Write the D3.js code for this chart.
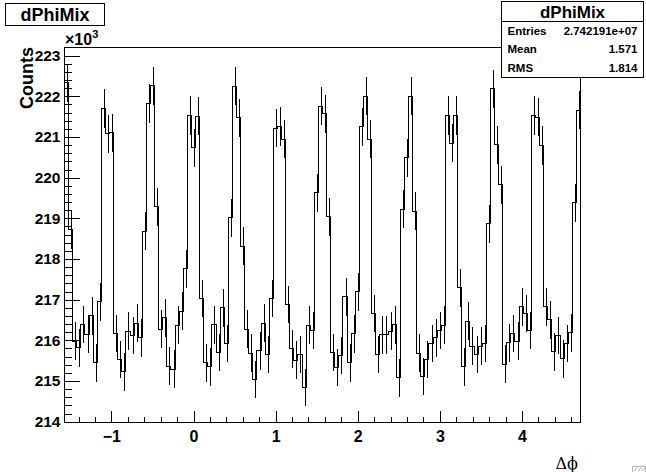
<!DOCTYPE html>
<html>
<head>
<meta charset="utf-8">
<script src="https://cdn.jsdelivr.net/npm/d3@7"></script>
<style>
body { margin: 0; background: #fff; }
svg { display: block; font-family: "Liberation Sans", Arial, Helvetica, sans-serif; font-weight: bold; }
</style>
</head>
<body>
<script>
var histTitle = "dPhiMix";
var xTitle = "\u0394\u03d5";
var yTitle = "Counts";
var xMin = -Math.PI / 2, xMax = 3 * Math.PI / 2;

// bin contents in units of 10^3 counts, 126 bins from -pi/2 to 3pi/2
var counts = [
    222.33, 218.72, 215.98, 215.82, 216.39, 216.15, 216.60, 215.45, 216.95, 221.70,
    221.08, 221.10, 216.17, 215.53, 215.23, 216.22, 216.12, 216.42, 216.06, 218.68,
    221.82, 222.26, 219.28, 216.27, 216.55, 215.36, 215.29, 216.37, 216.72, 217.76,
    221.53, 220.73, 221.51, 217.03, 215.45, 215.35, 216.38, 215.70, 216.80, 215.92,
    219.01, 222.25, 221.47, 218.31, 216.27, 215.68, 215.04, 215.74, 216.42, 215.65,
    217.03, 221.22, 221.26, 220.95, 216.88, 215.79, 215.51, 215.65, 214.84, 216.37,
    216.24, 219.63, 221.76, 221.57, 219.04, 215.70, 215.33, 215.63, 217.07, 215.45,
    216.16, 217.19, 221.25, 222.00, 220.95, 216.66, 215.65, 216.14, 216.14, 216.22,
    216.38, 215.08, 219.22, 220.49, 222.00, 219.17, 215.68, 215.11, 215.53, 215.92,
    216.06, 216.24, 216.37, 221.53, 220.85, 221.53, 217.29, 215.35, 216.47, 215.86,
    215.65, 215.86, 215.92, 218.87, 222.18, 220.81, 219.82, 215.41, 215.94, 216.17,
    215.98, 216.83, 216.66, 216.24, 221.53, 221.49, 220.79, 216.83, 216.51, 215.72,
    216.12, 215.55, 215.92, 216.19, 219.38, 221.66
];

var xTicks = [-1, 0, 1, 2, 3, 4];
var yTicks = [214, 215, 216, 217, 218, 219, 220, 221, 222, 223];

var statNames = ["Entries", "Mean", "RMS"];
var statValues = ["2.742191e+07", "1.571", "1.814"];

var W = 646, H = 472;
var margin = {top: 48, right: 65, bottom: 49, left: 65},
    width = W - margin.left - margin.right,
    height = H - margin.top - margin.bottom;

var x = d3.scaleLinear().domain([xMin, xMax]).range([0, width]);
var y = d3.scaleLinear().domain([213.98, 223.2]).range([height, 0]);

var svg = d3.select("body").append("svg")
    .attr("width", W)
    .attr("height", H);

var plot = svg.append("g")
    .attr("transform", "translate(" + (margin.left - 0.5) + "," + (margin.top - 0.5) + ")");

var nb = counts.length;
var binW = (xMax - xMin) / nb;

// histogram outline
var stepPts = counts.map(function(c, i) { return [xMin + i * binW, c]; });
stepPts.push([xMax, counts[nb - 1]]);

var line = d3.line()
    .x(function(d) { return x(d[0]); })
    .y(function(d) { return y(d[1]); })
    .curve(d3.curveStepAfter);

plot.append("path")
    .attr("d", line(stepPts))
    .attr("fill", "none")
    .attr("stroke", "#000")
    .attr("stroke-width", 1)
    .attr("shape-rendering", "crispEdges");

// error bars, sqrt(N)
plot.selectAll(".err")
    .data(counts)
    .enter().append("line")
    .attr("class", "err")
    .attr("x1", function(d, i) { return Math.round(x(xMin + (i + 0.5) * binW)) + 0.5; })
    .attr("x2", function(d, i) { return Math.round(x(xMin + (i + 0.5) * binW)) + 0.5; })
    .attr("y1", function(d) { return y(d - Math.sqrt(d * 1000) / 1000); })
    .attr("y2", function(d) { return y(d + Math.sqrt(d * 1000) / 1000); })
    .attr("stroke", "#000")
    .attr("stroke-width", 1)
    .attr("shape-rendering", "crispEdges");

// x axis, ticks inside the frame
var xMinor = d3.range(-1.4, 4.7, 0.2).filter(function(v) {
    return Math.abs(v - Math.round(v)) > 0.01;
});

plot.append("g")
    .attr("transform", "translate(0," + height + ")")
    .call(d3.axisBottom(x).tickValues(xMinor).tickSize(-5.6).tickFormat(""))
    .call(function(g) { g.select(".domain").remove(); });

var xAxis = plot.append("g")
    .attr("transform", "translate(0," + height + ")")
    .call(d3.axisBottom(x).tickValues(xTicks).tickSize(-11.3).tickPadding(8).tickFormat(d3.format("d")))
    .call(function(g) { g.select(".domain").remove(); });

xAxis.selectAll("text")
    .attr("font-family", "Liberation Sans, Arial, sans-serif")
    .attr("font-weight", "bold")
    .attr("font-size", 16)
    .attr("fill", "#000");

// y axis
var yMinor = d3.range(214.2, 223.2, 0.2).filter(function(v) {
    return Math.abs(v - Math.round(v)) > 0.01;
});

plot.append("g")
    .call(d3.axisLeft(y).tickValues(yMinor).tickSize(-7.8).tickFormat(""))
    .call(function(g) { g.select(".domain").remove(); });

var yAxis = plot.append("g")
    .call(d3.axisLeft(y).tickValues(yTicks).tickSize(-15.5).tickPadding(4).tickFormat(d3.format("d")))
    .call(function(g) { g.select(".domain").remove(); });

yAxis.selectAll("text")
    .attr("font-family", "Liberation Sans, Arial, sans-serif")
    .attr("font-weight", "bold")
    .attr("font-size", 15.5)
    .attr("fill", "#000");

plot.selectAll(".tick line")
    .attr("stroke", "#000")
    .attr("shape-rendering", "crispEdges");

// frame
plot.append("rect")
    .attr("width", width)
    .attr("height", height)
    .attr("fill", "none")
    .attr("stroke", "#000")
    .attr("shape-rendering", "crispEdges");

// x10^3 exponent label
var expo = svg.append("text")
    .attr("x", margin.left)
    .attr("y", margin.top - 3)
    .attr("font-size", 16);
expo.append("tspan").text("\u00d710");
expo.append("tspan").attr("font-size", 11).attr("dy", -7).text("3");

// axis titles
svg.append("text")
    .attr("transform", "translate(33," + (margin.top - 1) + ") rotate(-90)")
    .attr("text-anchor", "end")
    .attr("font-size", 18)
    .text(yTitle);

svg.append("text")
    .attr("x", 578)
    .attr("y", 469)
    .attr("text-anchor", "end")
    .attr("font-family", "DejaVu Serif, Liberation Serif, serif")
    .attr("font-weight", "normal")
    .attr("font-size", 16)
    .text(xTitle);

// title box
svg.append("rect")
    .attr("x", 5.5).attr("y", 3.5)
    .attr("width", 99).attr("height", 22)
    .attr("fill", "#fff").attr("stroke", "#000")
    .attr("shape-rendering", "crispEdges");

svg.append("text")
    .attr("x", 55).attr("y", 21)
    .attr("text-anchor", "middle")
    .attr("font-size", 18)
    .text(histTitle);

// stats box
var stats = svg.append("g").attr("transform", "translate(501.5,1.5)");

stats.append("rect")
    .attr("width", 142).attr("height", 76)
    .attr("fill", "#fff").attr("stroke", "#000")
    .attr("shape-rendering", "crispEdges");

stats.append("line")
    .attr("x1", 0).attr("x2", 142)
    .attr("y1", 20).attr("y2", 20)
    .attr("stroke", "#000")
    .attr("shape-rendering", "crispEdges");

stats.append("text")
    .attr("x", 71).attr("y", 16.5)
    .attr("text-anchor", "middle")
    .attr("font-size", 17)
    .text(histTitle);

var rowY = [33, 51.5, 70];

stats.selectAll(".sname")
    .data(statNames)
    .enter().append("text")
    .attr("class", "sname")
    .attr("x", 6)
    .attr("y", function(d, i) { return rowY[i]; })
    .attr("font-size", 11.5)
    .text(function(d) { return d; });

stats.selectAll(".sval")
    .data(statValues)
    .enter().append("text")
    .attr("class", "sval")
    .attr("x", 136)
    .attr("y", function(d, i) { return rowY[i]; })
    .attr("text-anchor", "end")
    .attr("font-size", 11.5)
    .text(function(d) { return d; });

// canvas resize grip, bottom right corner
var grip = svg.append("g").attr("stroke", "#bbb").attr("stroke-width", 1).attr("fill", "none");
grip.append("rect")
    .attr("x", W - 13.5).attr("y", H - 5.5)
    .attr("width", 13).attr("height", 6);
[4, 8, 12].forEach(function(k) {
    grip.append("line")
        .attr("x1", W - k).attr("y1", H - 1)
        .attr("x2", W - k + 5).attr("y2", H - 6);
});
</script>
</body>
</html>
